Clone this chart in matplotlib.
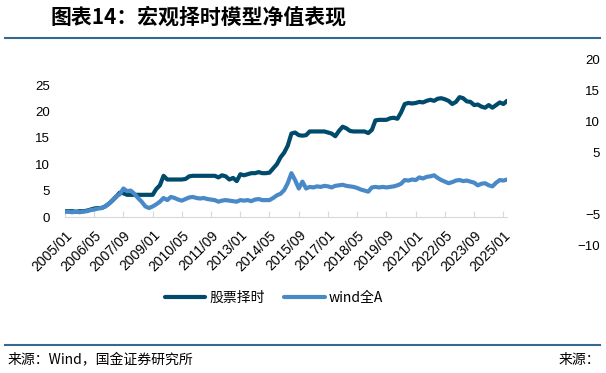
import pandas as pd
import matplotlib
matplotlib.use("Agg")
import matplotlib.pyplot as plt
from matplotlib.lines import Line2D

plt.rcParams['font.family'] = ['Liberation Sans', 'Noto Sans CJK SC', 'DejaVu Sans']
cjk = ['Noto Sans CJK SC', 'DejaVu Sans']

# bimonthly net values, 2005/01 .. 2025/03
dates = pd.date_range('2005-01-01', '2025-03-01', freq='2MS')

timing = [1.1, 1.1, 1.1, 1.0, 1.1, 1.1, 1.2, 1.4, 1.6, 1.7,
          1.7, 2.0, 2.5, 3.1, 3.8, 4.6, 4.5, 4.2, 4.2, 4.2,
          4.2, 4.2, 4.2, 4.2, 4.2, 5.3, 6.0, 7.8, 7.1, 7.1,
          7.1, 7.1, 7.1, 7.2, 7.7, 7.8, 7.8, 7.8, 7.8, 7.8,
          7.8, 7.8, 7.5, 7.9, 7.7, 7.1, 7.4, 6.8, 8.1, 7.9,
          8.1, 8.3, 8.3, 8.5, 8.3, 8.3, 8.4, 9.2, 10.0, 11.3,
          12.2, 13.5, 15.8, 16.0, 15.5, 15.4, 15.5, 16.2, 16.2, 16.2,
          16.2, 16.2, 16.0, 15.8, 15.3, 16.3, 17.1, 16.8, 16.3, 16.2,
          16.2, 16.2, 16.2, 15.9, 16.5, 18.3, 18.4, 18.4, 18.4, 18.7,
          18.8, 18.6, 19.8, 21.4, 21.6, 21.5, 21.6, 21.8, 21.7, 22.0,
          22.2, 22.0, 22.4, 22.5, 22.3, 22.0, 21.4, 21.8, 22.7, 22.5,
          21.9, 21.8, 21.2, 21.3, 20.9, 20.7, 21.2, 20.7, 21.2, 21.7,
          21.4, 22.0]

wind_a = [1.0, 1.0, 0.9, 1.0, 0.9, 1.0, 1.1, 1.3, 1.4, 1.6,
          1.7, 2.0, 2.5, 3.2, 3.9, 4.3, 5.4, 4.9, 5.0, 4.4,
          3.6, 2.9, 2.0, 1.7, 2.0, 2.4, 2.9, 3.6, 3.2, 3.8,
          3.6, 3.3, 3.1, 3.4, 3.7, 3.8, 3.6, 3.5, 3.6, 3.4,
          3.3, 3.2, 2.9, 3.1, 3.2, 3.1, 3.0, 2.9, 3.2, 3.1,
          3.2, 3.0, 3.3, 3.4, 3.2, 3.2, 3.2, 3.6, 4.1, 4.4,
          5.1, 6.4, 8.3, 7.0, 5.4, 6.7, 5.4, 5.7, 5.6, 5.8,
          5.7, 5.9, 5.8, 5.6, 5.9, 6.0, 6.1, 5.9, 5.8, 5.7,
          5.5, 5.2, 5.0, 4.8, 5.6, 5.7, 5.6, 5.7, 5.6, 5.7,
          5.8, 6.0, 6.3, 7.0, 6.9, 7.1, 7.0, 7.5, 7.3, 7.6,
          7.7, 7.9, 7.4, 7.0, 6.7, 6.4, 6.6, 6.9, 7.0, 6.8,
          6.9, 6.7, 6.5, 6.0, 6.3, 6.4, 6.0, 5.8, 6.5, 7.0,
          6.9, 7.1]

tick_dates = pd.date_range('2005-01-01', '2025-01-01', freq='16MS')
tick_labels = [d.strftime('%Y/%m') for d in tick_dates]
left_ticks = [0, 5, 10, 15, 20, 25]
right_ticks = [-10, -5, 5, 10, 15, 20]

W, H = 606, 373
fig = plt.figure(figsize=(W / 100, H / 100), dpi=100)

# main axes
ax = fig.add_axes([65 / W, 1 - 217 / H, 442 / W, (217 - 58.6) / H])
ax.plot(dates, timing, color='#004B6B', lw=3, label='股票择时', solid_capstyle='round')
ax.plot(dates, wind_a, color='#4A89C8', lw=3, label='wind全A', solid_capstyle='round')
ax.set_xlim(dates[0], dates[-1])
ax.set_ylim(0, 30)
ax.set_yticks(left_ticks)
ax.set_xticks(tick_dates)
ax.set_xticklabels(tick_labels, rotation=45, ha='right', rotation_mode='anchor')
for s in ['left', 'top', 'right']:
    ax.spines[s].set_visible(False)
ax.spines['bottom'].set_color('#D9D9D9')
ax.tick_params(axis='y', length=0, pad=11, labelsize=9.5)
ax.tick_params(axis='x', direction='in', length=4, color='#D9D9D9', pad=8, labelsize=10)

# secondary axis (labels only)
ax2 = fig.add_axes([65 / W, 1 - 245 / H, (600 - 65) / W, 185 / H])
ax2.patch.set_visible(False)
for s in ax2.spines.values():
    s.set_visible(False)
ax2.set_xticks([])
ax2.set_ylim(-10, 20)
ax2.set_yticks(right_ticks)
ax2.yaxis.tick_right()
ax2.tick_params(axis='y', length=0, pad=0, labelsize=9.5)
for t in ax2.get_yticklabels():
    t.set_ha('right')

# title, rules, legend, source
fig.text(50 / W, 1 - 17 / H, '图表14：宏观择时模型净值表现', fontsize=15,
         fontweight='bold', style='italic', va='center', family=cjk)
fig.add_artist(Line2D([5 / W, 600 / W], [1 - 37.5 / H] * 2, color='#336B8F', lw=1.5))
fig.add_artist(Line2D([5 / W, 600 / W], [1 - 345 / H] * 2, color='#336B8F', lw=1.5))

fig.legend(loc='center', bbox_to_anchor=(274 / W, 1 - 298 / H), ncol=2, frameon=False,
           prop={'family': cjk, 'size': 10}, handlelength=2.9, columnspacing=1.4,
           handletextpad=0.3)

fig.text(8 / W, 1 - 360 / H, '来源：Wind，国金证券研究所', fontsize=10, va='center', family=cjk)
fig.text(600 / W, 1 - 360 / H, '来源：', fontsize=10, va='center', ha='right', family=cjk)

fig.savefig('out.png', dpi=100)
